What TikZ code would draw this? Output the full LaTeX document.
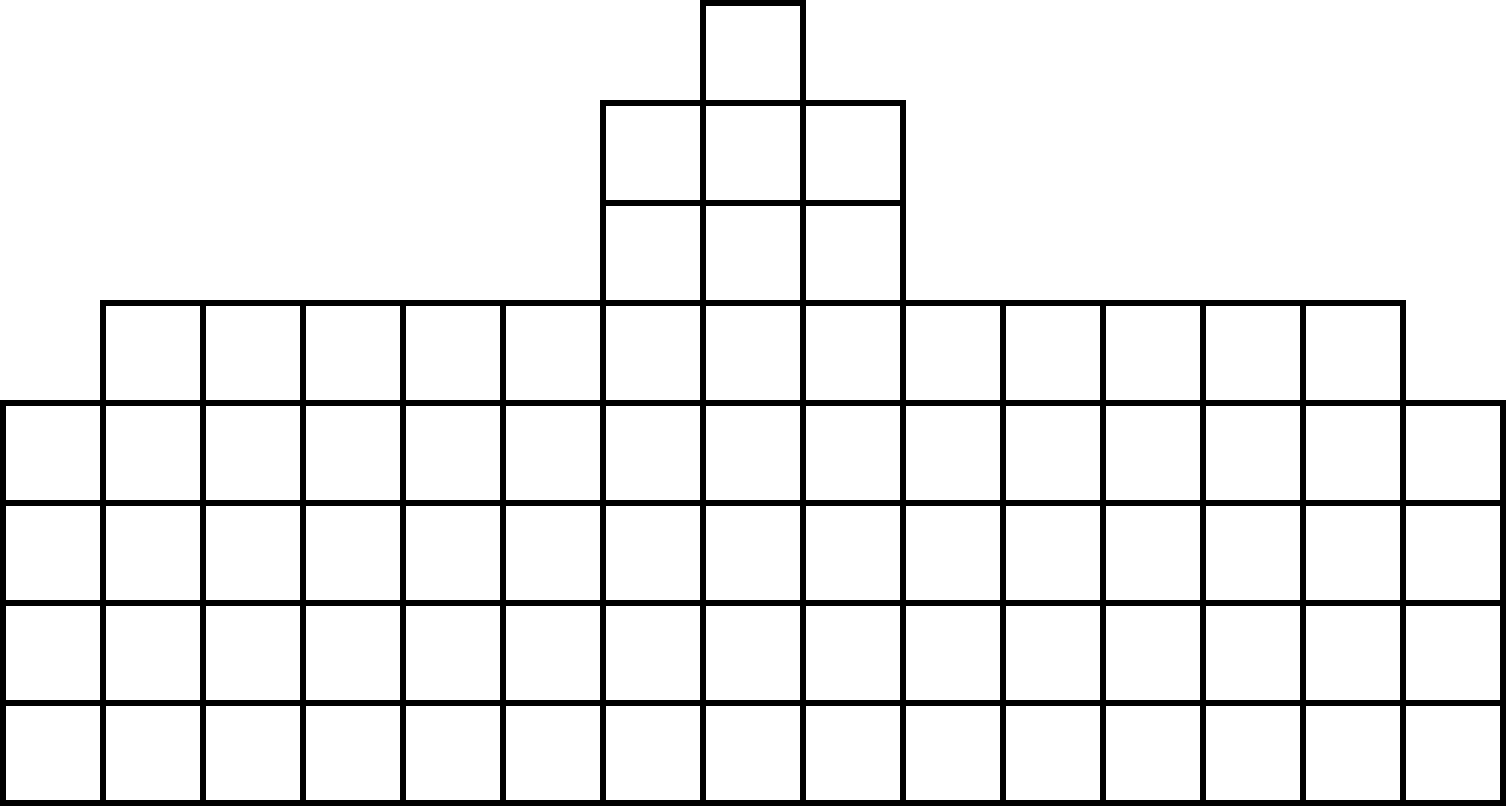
\documentclass[tikz,border=0pt]{standalone}
\usetikzlibrary{positioning}

\begin{document}
\begin{tikzpicture}[cell/.style={draw,line width=0.06cm}]
\useasboundingbox (-0.03,-0.03) rectangle (15.03,8.03);
% four full rows
\foreach \y in {0,...,3}
  \foreach \x in {0,...,14}
    \draw[cell] (\x,\y) rectangle ++(1,1);
% fifth row
\foreach \x in {1,...,13}
  \draw[cell] (\x,4) rectangle ++(1,1);
% rows six and seven
\foreach \y in {5,6}
  \foreach \x in {6,7,8}
    \draw[cell] (\x,\y) rectangle ++(1,1);
% top cell
\draw[cell] (7,7) rectangle ++(1,1);
\end{tikzpicture}
\end{document}
